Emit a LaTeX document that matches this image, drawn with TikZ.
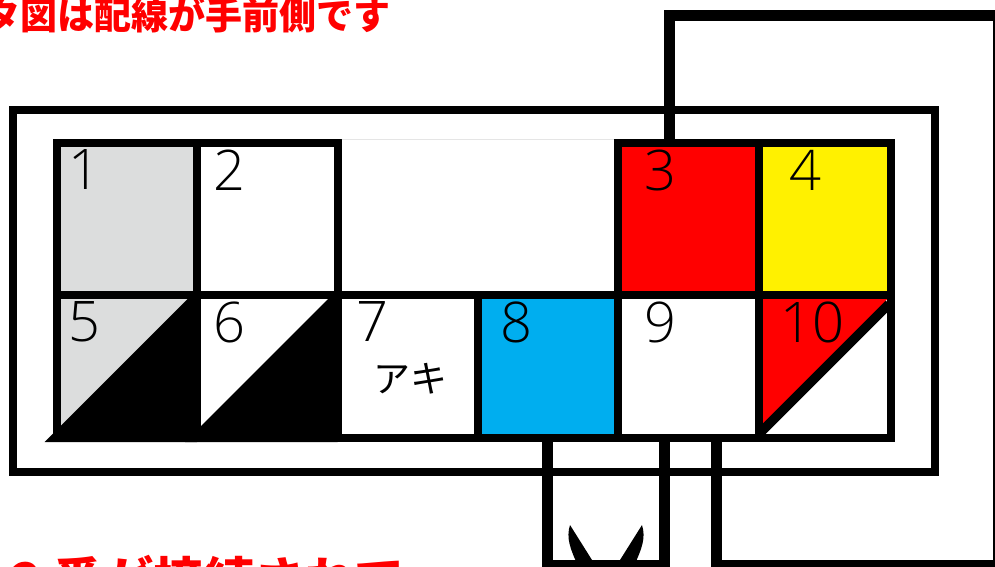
\documentclass[tikz,border=0pt]{standalone}
\usepackage{fontspec}
\setmainfont{Noto Sans CJK JP}
\newfontfamily\numfont{Open Sans Light}

\tikzset{
    cellbox/.style = {draw, line width = 8pt, inner sep = 0pt},
    wire/.style = {line width = 11pt, line join = miter},
    numlabel/.style = {inner sep = 0pt, font = \numfont\fontsize{56}{56}\selectfont},
    notice/.style = {inner sep = 0pt, anchor = west, text = red, font = \bfseries}
}

\definecolor{cellgray}{HTML}{DCDDDD}
\definecolor{cellyellow}{HTML}{FFF100}
\definecolor{cellblue}{HTML}{00AEEF}

\begin{document}
\begin{tikzpicture}[x = 1pt, y = -1pt]

        % Page of the reference, everything else is cut off at its edge.
        \useasboundingbox (0, 0) rectangle (995, 566);
        \clip (0, 0) rectangle (995, 566);

        % Points the wires run through.
        \coordinate (TL) at (669.5, 15.5);
        \coordinate (TR) at (998.5, 15.5);
        \coordinate (BR) at (998.5, 565.5);
        \coordinate (BM) at (716, 565.5);
        \coordinate (UA) at (547.5, 565.5);
        \coordinate (UB) at (664, 565.5);

        % Housing round the connector.
        \node[draw, line width = 8pt, minimum width = 922pt, minimum height = 362pt] (shell) at (474, 291) {};

        % Red half of cell 10 lies under its border.
        \fill[red] (759, 438) to (759, 295) to (891, 295) to cycle;

        % Loop through each cell of the connector.
        \foreach[%
            evaluate = {\cx = (\xa + \xb) / 2},
            evaluate = {\cy = (\ya + \yb) / 2},
            evaluate = {\cw = \xb - \xa},
            evaluate = {\ch = \yb - \ya}
        ] \name/\xa/\xb/\ya/\yb/\col in {%
            c1/56.7/197/143/295/cellgray,
            c2/197/337.5/143/295/white,
            c3/618/759/143/295/red,
            c4/759/891/143/295/cellyellow,
            c5/56.7/197/295/438/cellgray,
            c6/197/337.5/295/438/white,
            c7/337.5/478/295/438/white,
            c8/478/618/295/438/cellblue,
            c9/618/759/295/438/white,
            c10/759/891/295/438/none%
        }{
            \node[cellbox, fill = \col, minimum width = \cw pt, minimum height = \ch pt] (\name) at (\cx, \cy) {};
        }

        % Faint edge of the empty slot in the top row.
        \draw[black!10, line width = 0.7pt] (c2.north east) to (c3.north west);

        % Black halves of cells 5 and 6.
        \fill (44.7, 442) to (193, 293.7) to (197, 293.7) to (197, 442) to cycle;
        \fill (185, 442) to (333.3, 293.7) to (337.5, 293.7) to (337.5, 442) to cycle;

        % Diagonal of cell 10.
        \draw[line width = 9.5pt] (761, 432) to (889, 304);

        % Number of each cell.
        \foreach \name/\px/\py/\txt in {%
            n1/84/170/1, n2/229/170/2, n3/660/170/3, n4/805/170/4,
            n5/84/322/5, n6/229/322/6, n7/372/322/7, n8/516/322/8,
            n9/660/322/9, n10/812/322/10%
        }{
            \node[numlabel] (\name) at (\px, \py) {\txt};
        }

        % Cell 7 is not in use.
        \node[inner sep = 0pt, font = \fontsize{37}{37}\selectfont] (spare) at (410, 379) {アキ};

        % Wires on the near side.
        \draw[wire] (c3.north -| TL) to (TL) to (TR) to (BR) to (BM) to (c10.south -| BM);
        \draw[wire] (c8.south -| UA) to (UA) to (UB) to (c9.south -| UB);

        % Terminal horns at the foot of the loop.
        \fill (570, 525) .. controls (566, 538) and (570, 548) .. (578, 566) to (592, 566) to (592, 560) to cycle;
        \fill (642, 525) .. controls (646, 538) and (642, 548) .. (634, 566) to (620, 566) to (620, 560) to cycle;

        % Red notes, both cut off by the page.
        \node[notice, font = \bfseries\fontsize{37}{37}\selectfont] (topnote) at (-17, 15) {タ図は配線が手前側です};
        \node[notice, font = \bfseries\fontsize{50.5}{50.5}\selectfont] (footnote) at (11, 580) {2\hspace{11pt}番が接続されて};
    \end{tikzpicture}
\end{document}
